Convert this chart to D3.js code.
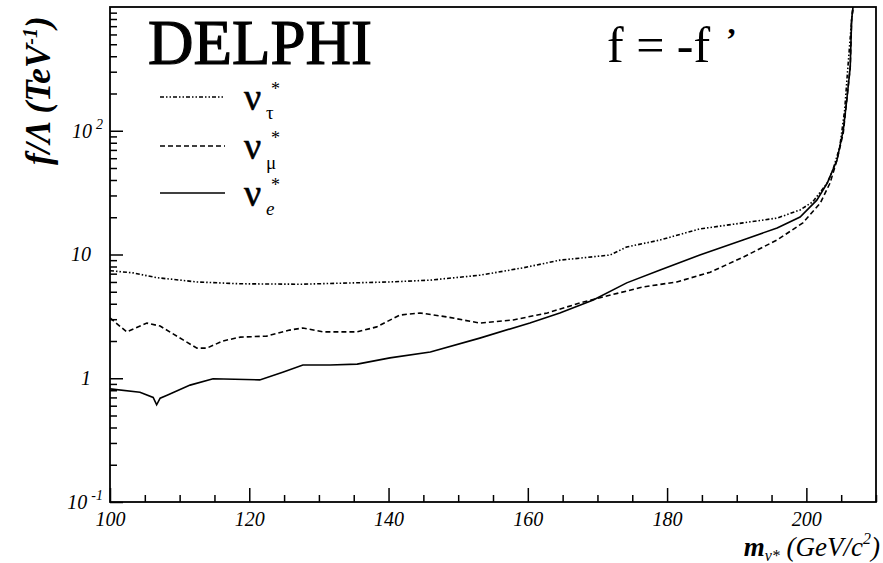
<!DOCTYPE html>
<html>
<head>
<meta charset="utf-8">
<script src="https://cdn.jsdelivr.net/npm/d3@7"></script>
<style>
  html, body { margin: 0; padding: 0; background: #fff; }
  svg { display: block; }
  .serif { font-family: "Liberation Serif", "Times New Roman", serif; }
  .tick text { font-family: "Liberation Serif", serif; font-style: italic; font-size: 20px; fill: #000; }
  .tick line { stroke: #000; stroke-width: 1.5; }
</style>
</head>
<body>
<div id="chart"></div>
<script>
// excited tau neutrino (dash-dot line)
const tauMass = [100, 103.3, 106.7, 112.5, 118.7, 127.3, 140.2, 145.9, 153.1, 159.3, 164.6, 171.8, 174.2, 179.0, 184.7, 190.9, 195.8, 199.1, 200.9, 203.0, 203.8, 204.8, 205.5, 205.9, 206.5, 206.7];
const tauLimit = [7.4, 7.1, 6.5, 6.0, 5.8, 5.75, 6.0, 6.2, 6.8, 7.8, 9.0, 9.9, 11.5, 13.1, 16.1, 18.0, 19.7, 22.9, 26.6, 37.8, 48, 74, 147, 293, 785, 1000];

// excited muon neutrino (dashed line)
const muMass = [100, 102.4, 105.3, 107.2, 110.5, 112.5, 113.9, 116.2, 118.7, 122.5, 125.8, 127.7, 130.6, 135.5, 138.3, 141.6, 144.5, 148.4, 153.1, 157.9, 162.8, 167.5, 170.8, 176.5, 181.4, 186.2, 190.9, 195.8, 199.5, 202.0, 203.4, 204.4, 205.3, 205.8, 206.3, 206.5, 206.7];
const muLimit = [3.07, 2.37, 2.79, 2.64, 2.04, 1.75, 1.75, 2.0, 2.15, 2.19, 2.45, 2.55, 2.37, 2.37, 2.6, 3.24, 3.37, 3.13, 2.79, 2.96, 3.37, 4.06, 4.54, 5.46, 6.0, 7.2, 9.5, 13.1, 18.0, 26, 37.8, 58, 96, 177, 327, 785, 1000];

// excited electron neutrino (solid line)
const eMass = [100, 104.3, 106.2, 106.7, 107.2, 108.2, 111.5, 114.8, 121.5, 124.8, 127.7, 131.6, 135.5, 140.2, 146.0, 153.1, 160.3, 164.6, 169.4, 174.2, 179.0, 184.7, 190.9, 195.8, 199.1, 201.5, 203.0, 204.4, 205.3, 205.8, 206.3, 206.5, 206.7];
const eLimit = [0.82, 0.77, 0.70, 0.61, 0.69, 0.73, 0.88, 0.99, 0.97, 1.12, 1.28, 1.28, 1.30, 1.46, 1.63, 2.11, 2.8, 3.37, 4.29, 5.9, 7.5, 9.9, 13.1, 16.4, 20.1, 27.5, 37.8, 58, 101, 177, 327, 785, 1000];

const xTickValues = [100, 120, 140, 160, 180, 200];
const yTickValues = [0.1, 1, 10, 100];
const yTickBase = ['10', '1', '10', '10'];
const yTickExp = ['-1', '', '', '2'];

const seriesNames = ['tau', 'mu', 'e'];
const seriesSubs = ['τ', 'μ', 'e'];

const width = 883;
const height = 563;
const margin = { top: 7, right: 7, bottom: 61, left: 110 };
const innerW = width - margin.left - margin.right;
const innerH = height - margin.top - margin.bottom;

const dashes = { tau: '4,2,1.5,2,1.5,2', mu: '5,3', e: null };

const svg = d3.select('#chart')
  .append('svg')
  .attr('width', width)
  .attr('height', height);

const g = svg.append('g')
  .attr('transform', `translate(${margin.left},${margin.top})`);

const x = d3.scaleLinear().domain([100, 210]).range([0, innerW]);
const y = d3.scaleLog().domain([0.1, 1000]).range([innerH, 0]);

svg.append('clipPath')
  .attr('id', 'plot-clip')
  .append('rect')
  .attr('width', innerW)
  .attr('height', innerH);

// minor ticks
const xMinor = x.ticks(22).filter(d => !xTickValues.includes(d));
g.append('g')
  .attr('transform', `translate(0,${innerH})`)
  .call(d3.axisBottom(x).tickValues(xMinor).tickSize(-7).tickFormat(''))
  .call(s => s.select('.domain').remove());

const yMinor = y.ticks().filter(d => ![0.1, 1, 10, 100, 1000].some(v => Math.abs(v - d) < 1e-9));
g.append('g')
  .call(d3.axisLeft(y).tickValues(yMinor).tickSize(-7).tickFormat(''))
  .call(s => s.select('.domain').remove());

// major ticks
g.append('g')
  .attr('transform', `translate(0,${innerH})`)
  .call(d3.axisBottom(x).tickValues(xTickValues).tickSize(-14).tickPadding(10).tickFormat(d3.format('d')))
  .call(s => s.select('.domain').remove());

const yAxis = g.append('g')
  .call(d3.axisLeft(y).tickValues(yTickValues).tickSize(-13).tickPadding(7).tickFormat(''))
  .call(s => s.select('.domain').remove());

yAxis.selectAll('.tick text').each(function(d) {
  const i = yTickValues.indexOf(d);
  const t = d3.select(this).text(null);
  const exp = yTickExp[i];
  t.attr('x', exp ? -7 : -19);
  t.append('tspan').text(yTickBase[i]);
  if (exp) {
    t.append('tspan')
      .attr('dx', 4)
      .attr('dy', '-0.65em')
      .style('font-size', '14px')
      .text(exp);
  }
});

// curves
const line = d3.line()
  .x(d => x(d[0]))
  .y(d => y(d[1]));

const curves = {
  tau: d3.zip(tauMass, tauLimit),
  mu: d3.zip(muMass, muLimit),
  e: d3.zip(eMass, eLimit)
};

g.append('g')
  .attr('clip-path', 'url(#plot-clip)')
  .selectAll('path')
  .data(seriesNames)
  .join('path')
  .attr('fill', 'none')
  .attr('stroke', '#000')
  .attr('stroke-width', 1.6)
  .attr('stroke-dasharray', d => dashes[d])
  .attr('d', d => line(curves[d]));

// frame
g.append('rect')
  .attr('width', innerW)
  .attr('height', innerH)
  .attr('fill', 'none')
  .attr('stroke', '#000')
  .attr('stroke-width', 1.8);

// legend
const legendRowY = [97, 146, 193];
const legend = svg.append('g').attr('class', 'serif');
seriesNames.forEach((name, i) => {
  const row = legend.append('g').attr('transform', `translate(0,${legendRowY[i]})`);
  row.append('line')
    .attr('x1', 160).attr('x2', 225)
    .attr('stroke', '#000')
    .attr('stroke-width', 1.6)
    .attr('stroke-dasharray', dashes[name]);
  row.append('text')
    .attr('x', 244).attr('y', 13)
    .style('font-size', '38px')
    .style('stroke', '#000')
    .style('stroke-width', 0.6)
    .text('ν');
  row.append('text')
    .attr('x', 271).attr('y', -2)
    .style('font-size', '18px')
    .text('*');
  row.append('text')
    .attr('x', 266).attr('y', i === 1 ? 23 : 22)
    .style('font-size', '19px')
    .style('font-style', name === 'e' ? 'italic' : 'normal')
    .text(seriesSubs[i]);
});

// labels
svg.append('text')
  .attr('class', 'serif')
  .attr('x', 148).attr('y', 64)
  .style('font-size', '63px')
  .style('stroke', '#000')
  .style('stroke-width', 1.2)
  .text('DELPHI');

const fText = svg.append('text')
  .attr('class', 'serif')
  .attr('x', 607).attr('y', 62)
  .style('font-size', '50px');
fText.append('tspan').text('f = -f');
fText.append('tspan').attr('x', 726).style('font-size', '32px').style('font-weight', 'bold').attr('dy', -12).text('’');

const xTitle = svg.append('text')
  .attr('class', 'serif')
  .attr('x', 880).attr('y', 556)
  .attr('text-anchor', 'end')
  .style('font-style', 'italic')
  .style('font-size', '27px');
xTitle.append('tspan').style('font-weight', 'bold').text('m');
xTitle.append('tspan').style('font-size', '16px').attr('dy', 5).text('ν*');
xTitle.append('tspan').attr('dy', -5).text(' (GeV/c');
xTitle.append('tspan').style('font-size', '16px').attr('dy', -12).text('2');
xTitle.append('tspan').attr('dy', 12).text(')');

const yTitle = svg.append('text')
  .attr('class', 'serif')
  .attr('transform', 'translate(50,165) rotate(-90)')
  .style('font-style', 'italic')
  .style('font-weight', 'bold')
  .style('font-size', '35px');
yTitle.append('tspan').text('f/Λ (TeV');
yTitle.append('tspan').style('font-size', '20px').attr('dy', -13).text('-1');
yTitle.append('tspan').attr('dy', 13).text(')');
</script>
</body>
</html>
